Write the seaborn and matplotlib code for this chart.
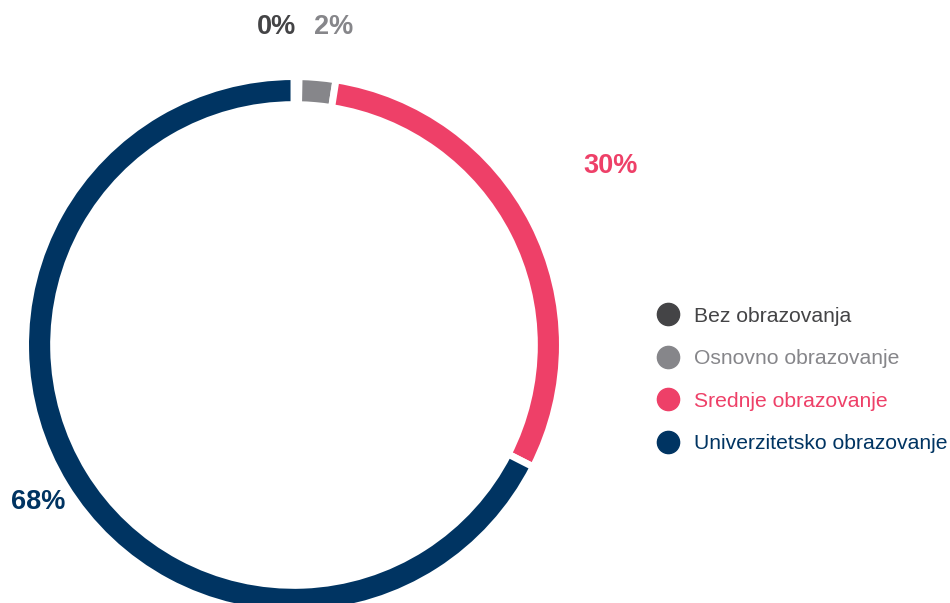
import seaborn as sns
import matplotlib.pyplot as plt
from matplotlib.lines import Line2D

# values (0% slice is a hairline)
categories = ['Bez obrazovanja', 'Osnovno obrazovanje', 'Srednje obrazovanje', 'Univerzitetsko obrazovanje']
values = [0.3, 2.2, 30.0, 67.5]
pct_labels = ['0%', '2%', '30%', '68%']
colors = ['#444446', '#86868a', '#ee4068', '#003462']

sns.set_theme(style='white')
plt.rcParams['font.family'] = ['Liberation Sans', 'DejaVu Sans']

fig = plt.figure(figsize=(9.5, 6.03), dpi=100)
W, H = 950, 603
cx, cy, r = 294, 345, 265
ax = fig.add_axes([(cx - r) / W, (H - cy - r) / H, 2 * r / W, 2 * r / H])

# white edges eat into the ring, so pad radius and width a little
wedges, _ = ax.pie(values, colors=colors, startangle=90, counterclock=False, radius=1.013,
                   wedgeprops=dict(width=0.106, edgecolor='white', linewidth=5))
ax.set_xlim(-1, 1)
ax.set_ylim(-1, 1)
ax.axis('off')
for w in wedges:
    w.set_clip_on(False)

# percentage labels
label_pos = [(276, 27), (334, 27), (611, 166), (38, 502)]
for (px, py), txt, c in zip(label_pos, pct_labels, colors):
    fig.text(px / W, 1 - py / H, txt, color=c, fontsize=19.5, fontweight='bold',
             ha='center', va='center')

handles = [Line2D([], [], marker='o', linestyle='', markersize=16, color=c) for c in colors]
leg = fig.legend(handles, categories, loc='center left', bbox_to_anchor=(638 / W, 1 - 380 / H),
                 frameon=False, fontsize=15.2, labelcolor=colors, handlelength=1,
                 handletextpad=0.75, labelspacing=1.12)

fig.savefig('out.png', dpi=100)
